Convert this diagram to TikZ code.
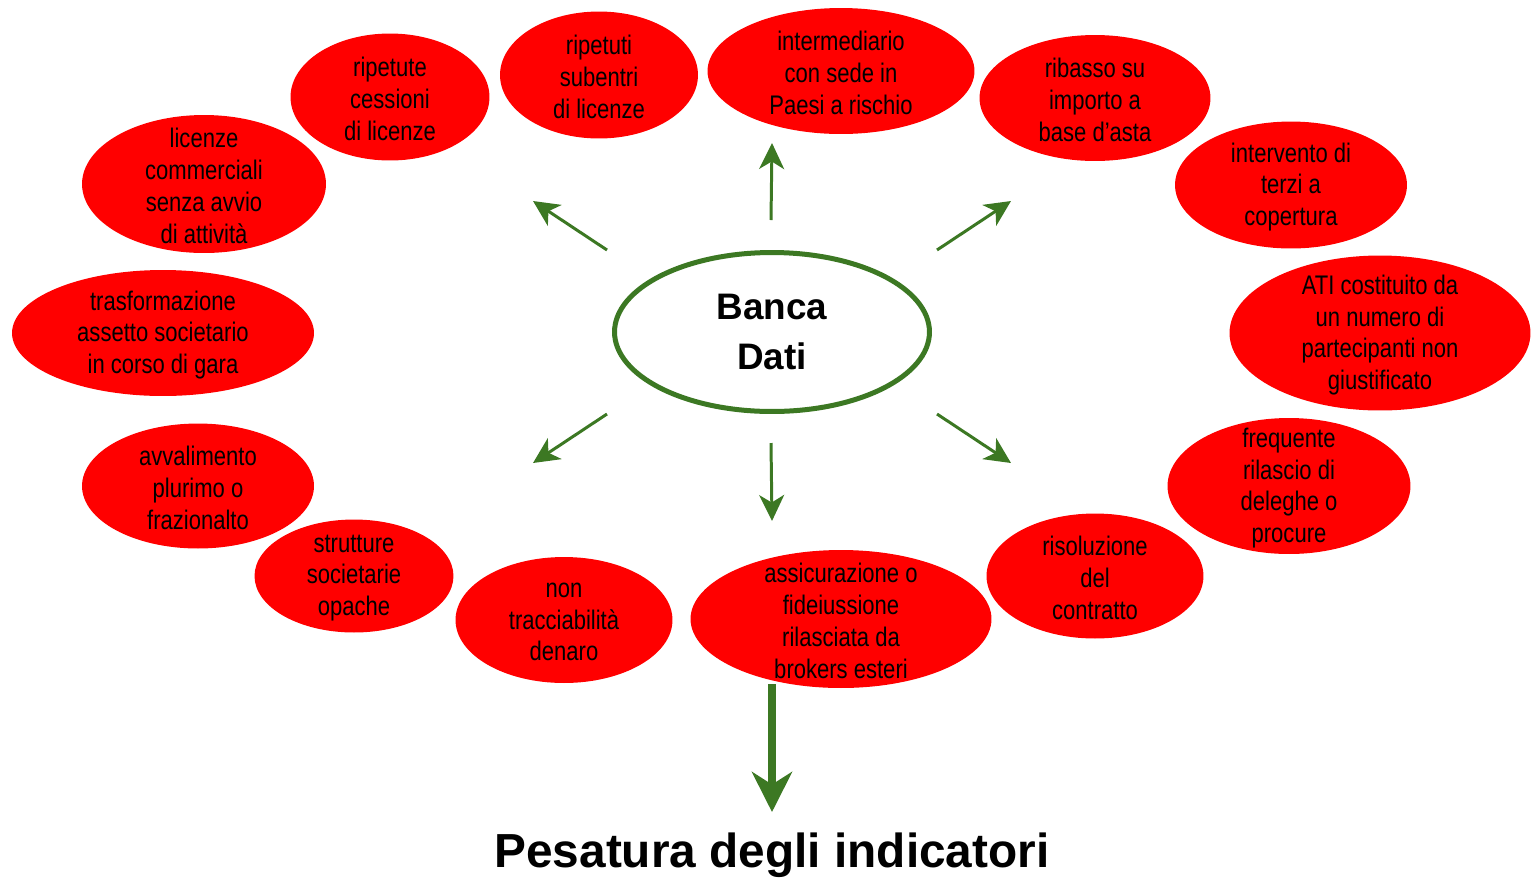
\documentclass[tikz,border=0pt]{standalone}
\usepackage{fontspec}
\setmainfont{Liberation Sans}[FakeStretch=0.82]
\newfontfamily\largefont{Liberation Sans}
\usepackage{xcolor}
\usepackage{tikz}
\usetikzlibrary{positioning,shapes.geometric,arrows.meta}
\definecolor{verde}{RGB}{60,120,35}

\begin{document}
\begin{tikzpicture}[x=0.02cm,y=-0.02cm,
		bolla/.style 2 args={ellipse,fill=red,minimum width=#1,minimum height=#2,inner sep=0pt},
		testo/.style={align=center,inner sep=0pt,yshift=-0.04cm,font=\fontsize{15.3}{18.1}\selectfont},
		freccia/.style={verde,line width=1.7pt,-{Stealth[length=0.52cm,width=0.5cm,inset=0.15cm]}}]
		\useasboundingbox (0,0) rectangle (1535,877);
		
		% centro
		\node[ellipse,draw=verde,line width=0.1cm,fill=white,minimum width=6.3cm,minimum height=3.18cm,align=center,font=\largefont\bfseries\fontsize{21}{28.5}\selectfont] (bd) at (772,332) {Banca\\Dati};
		
		% indicatori
		\node[bolla={4.88cm}{2.76cm},label={[testo]center:{licenze\\commerciali\\senza avvio\\di attività}}] (lic) at (204,184) {};
		\node[bolla={3.98cm}{2.54cm},label={[testo]center:{ripetute\\cessioni\\di licenze}}] (ces) at (390,97) {};
		\node[bolla={3.96cm}{2.54cm},label={[testo]center:{ripetuti\\subentri\\di licenze}}] (sub) at (599,75) {};
		\node[bolla={5.34cm}{2.52cm},label={[testo]center:{intermediario\\con sede in\\Paesi a rischio}}] (inter) at (841,71) {};
		\node[bolla={4.62cm}{2.52cm},label={[testo]center:{ribasso su\\importo a\\base d’asta}}] (rib) at (1095,98) {};
		\node[bolla={4.64cm}{2.54cm},label={[testo]center:{intervento di\\terzi a\\copertura}}] (interv) at (1291,185) {};
		\node[bolla={6.02cm}{3.10cm},label={[testo]center:{ATI costituito da\\un numero di\\partecipanti non\\giustificato}}] (ati) at (1380,333) {};
		\node[bolla={4.86cm}{2.72cm},label={[testo]center:{frequente\\rilascio di\\deleghe o\\procure}}] (freq) at (1289,486) {};
		\node[bolla={4.34cm}{2.50cm},label={[testo]center:{risoluzione\\del\\contratto}}] (ris) at (1095,576) {};
		\node[bolla={6.02cm}{2.76cm},label={[testo]center:{assicurazione o\\fideiussione\\rilasciata da\\brokers esteri}}] (ass) at (841,619) {};
		\node[bolla={4.34cm}{2.52cm},label={[testo]center:{non\\tracciabilità\\denaro}}] (trac) at (564,620) {};
		\node[bolla={3.98cm}{2.26cm},label={[testo]center:{strutture\\societarie\\opache}}] (strut) at (354,576) {};
		\node[bolla={4.64cm}{2.50cm},label={[testo]center:{avvalimento\\plurimo o\\frazionalto}}] (avv) at (198,486) {};
		\node[bolla={6.04cm}{2.52cm},label={[testo]center:{trasformazione\\assetto societario\\in corso di gara}}] (trasf) at (163,333) {};
		
		\node[anchor=base,inner sep=0pt,font=\largefont\bfseries\fontsize{27.2}{32}\selectfont] (pes) at (772,867) {Pesatura degli indicatori};
		
		% frecce
		\coordinate (nS) at (771,220); \coordinate (nE) at (772,143);
		\coordinate (noS) at (607,250); \coordinate (noE) at (533,201);
		\coordinate (neS) at (937,250); \coordinate (neE) at (1011,201);
		\coordinate (soS) at (607,414); \coordinate (soE) at (533,463);
		\coordinate (seS) at (937,414); \coordinate (seE) at (1011,463);
		\coordinate (sS) at (771,443); \coordinate (sE) at (772,521);
		\draw[freccia] (nS)--(nE);
		\draw[freccia] (noS)--(noE);
		\draw[freccia] (neS)--(neE);
		\draw[freccia] (soS)--(soE);
		\draw[freccia] (seS)--(seE);
		\draw[freccia] (sS)--(sE);
		
		\coordinate (pesE) at (772,812);
		\draw[verde,line width=0.16cm,-{Stealth[length=0.8cm,width=0.8cm,inset=0.25cm]}] (772,684)--(pesE);
	\end{tikzpicture}
\end{document}
